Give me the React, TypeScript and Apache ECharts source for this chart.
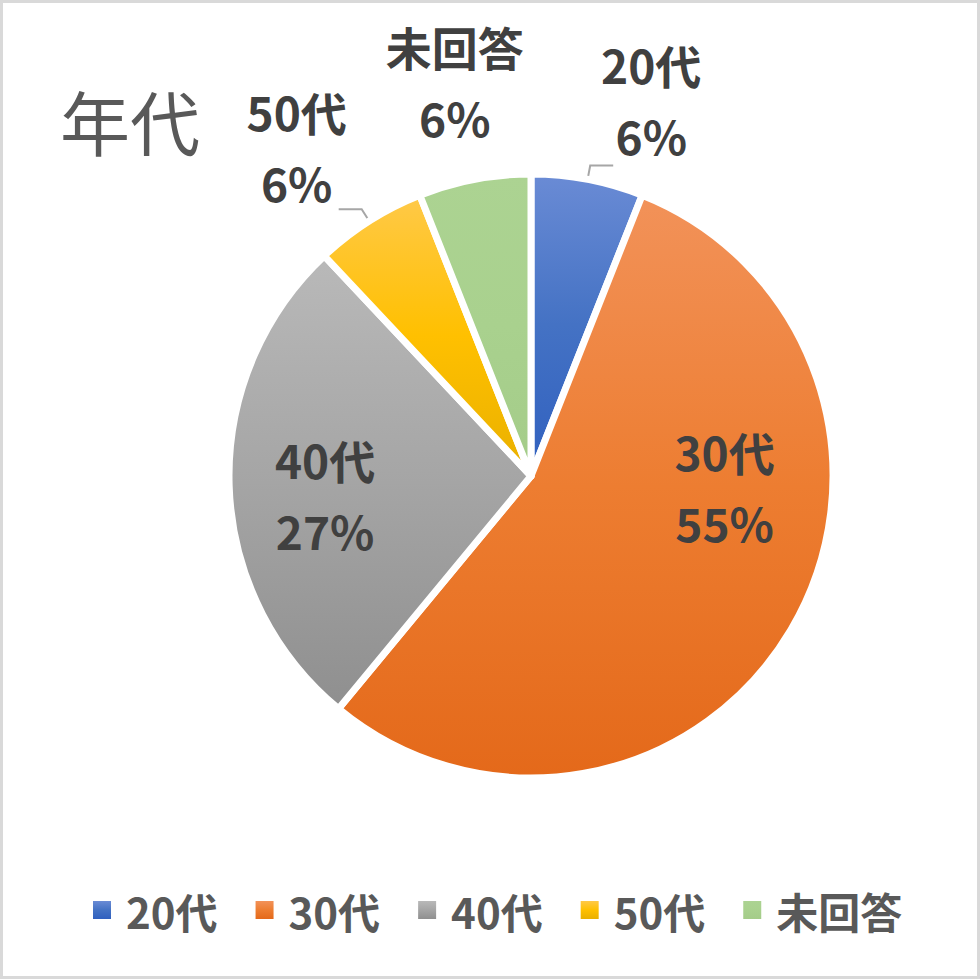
import { useEffect, useRef } from "react";
import * as echarts from "echarts";

const ages = ["20代", "30代", "40代", "50代", "未回答"];
const shares = [6, 55, 27, 6, 6];
const insideLabels = ["30代", "40代"];

// top / middle / bottom tones of each slice's vertical gradient
const sliceTones: string[][] = [
  ["#6a8bd5", "#4472c4", "#3060bf"],
  ["#f29259", "#ed7d31", "#e4691a"],
  ["#b9b9b9", "#a5a5a5", "#8f8f8f"],
  ["#ffc948", "#ffc000", "#e9b000"],
  ["#acd392", "#a9d18e", "#a4cc89"],
];

// nudges that move the labels to where Excel put them
const labelShift: Record<string, [number, number]> = {
  "20代": [33, -66],
  "30代": [61, -68],
  "40代": [-52, 14],
  "50代": [-37, -63],
  "未回答": [11, -84],
};

const font = "'Noto Sans CJK JP', 'Noto Sans CJK SC', sans-serif";

const App = () => {
  const chartRef = useRef<HTMLDivElement>(null);

  useEffect(() => {
    document.body.style.margin = "0";
    document.body.style.overflow = "hidden";
    const chart = echarts.init(chartRef.current, null, { renderer: "svg" });

    const data = ages.map((name, i) => ({
      name,
      value: shares[i],
      itemStyle: {
        color: new echarts.graphic.LinearGradient(0, 0, 0, 1, [
          { offset: 0, color: sliceTones[i][0] },
          { offset: 0.5, color: sliceTones[i][1] },
          { offset: 1, color: sliceTones[i][2] },
        ]),
      },
      label: { position: insideLabels.includes(name) ? "inside" : "outside" },
      labelLine: { show: name !== "未回答" },
    }));

    chart.setOption({
      animation: false,
      backgroundColor: "#ffffff",
      textStyle: { fontFamily: font },
      title: {
        text: "年代",
        left: 55,
        top: 80,
        textStyle: {
          fontFamily: font,
          fontSize: 70,
          fontWeight: "normal",
          color: "#595959",
        },
      },
      legend: {
        data: ages,
        left: 88,
        top: 884,
        icon: "rect",
        itemWidth: 18,
        itemHeight: 18,
        itemGap: 38,
        itemStyle: { borderWidth: 0 },
        textStyle: {
          fontFamily: font,
          fontSize: 42,
          fontWeight: "bold",
          color: "#595959",
          padding: [0, 0, 0, 10],
        },
      },
      graphic: [
        {
          type: "rect",
          shape: { x: 1.5, y: 1.5, width: 977, height: 976 },
          style: { fill: "none", stroke: "#d9d9d9", lineWidth: 3 },
          silent: true,
        },
      ],
      series: [
        {
          type: "pie",
          center: [531, 476],
          radius: 302,
          startAngle: 90,
          clockwise: true,
          avoidLabelOverlap: false,
          percentPrecision: 0,
          itemStyle: { borderColor: "#ffffff", borderWidth: 7 },
          label: {
            formatter: "{b}\n{d}%",
            fontFamily: font,
            fontSize: 46,
            fontWeight: "bold",
            lineHeight: 71,
            color: "#404040",
          },
          labelLine: {
            length: 14,
            length2: 23,
            lineStyle: { color: "#a6a6a6", width: 2 },
          },
          labelLayout: (params: any) => {
            const [dx, dy] = labelShift[ages[params.dataIndex]];
            return {
              dx,
              dy,
              align: "center",
              labelLinePoints: params.labelLinePoints,
            };
          },
          emphasis: { disabled: true },
          data,
        },
      ],
    });

    return () => {
      chart.dispose();
    };
  }, []);

  return (
    <div
      ref={chartRef}
      style={{ position: "absolute", left: 0, top: 0, width: 980, height: 979 }}
    />
  );
};

export default App;
